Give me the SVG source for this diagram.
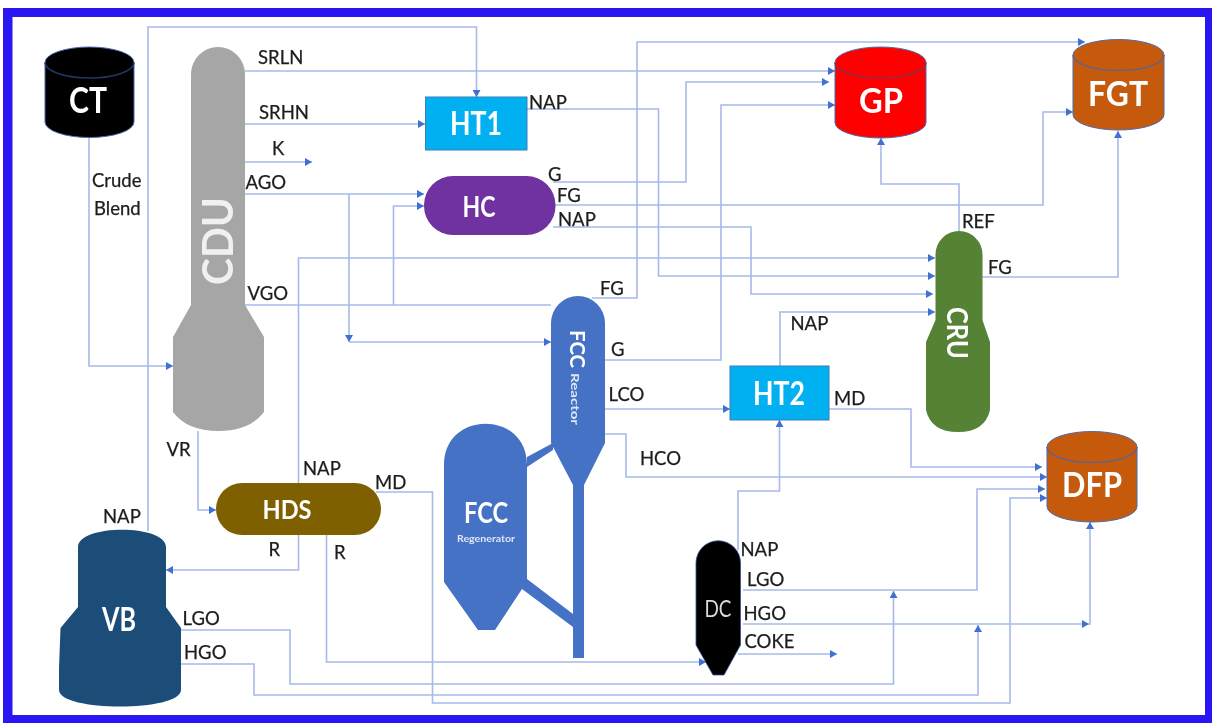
<svg xmlns="http://www.w3.org/2000/svg" width="1212" height="723" viewBox="0 0 1212 723">
<style>
text{font-family:"Lato","Open Sans","Liberation Sans",sans-serif}
.l{font-size:18.5px;fill:#1c1c1c;stroke:#1c1c1c;stroke-width:0.25}
.n{fill:#fff;text-anchor:middle;font-weight:700}
.c{fill:none;stroke:#a6bbe8;stroke-width:1.6;stroke-linejoin:miter}
.a{marker-end:url(#ah)}
.cyl{stroke:#4a6bab;stroke-width:1}
.arc{fill:none;stroke-width:1.6}
</style>
<defs>
<marker id="ah" markerUnits="userSpaceOnUse" markerWidth="8" markerHeight="8" refX="7" refY="4" orient="auto"><path d="M0 0L7 4L0 8Z" fill="#3f6fd0"/></marker>
<filter id="soft" x="0" y="0" width="100%" height="100%"><feGaussianBlur stdDeviation="0.45"/></filter>
</defs>
<rect width="1212" height="723" fill="#fff"/>
<g filter="url(#soft)">
<path id="frame" fill="#2a14f2" fill-rule="evenodd" d="M3 8H1212V723H3ZM12.5 17V715H1205V17Z"/>
<g id="connectors">
<path class="c a" d="M148 531V27H476.5V97"/>
<path class="c a" d="M245 71H835"/>
<path class="c a" d="M245 124H425"/>
<path class="c a" d="M245 162H312"/>
<path class="c a" d="M245 194H424"/>
<path class="c a" d="M349 194V342"/>
<path class="c a" d="M349 342H551"/>
<path class="c" d="M245 305H551"/>
<path class="c a" d="M393.500 305V206H424"/>
<path class="c a" d="M298.500 483V258H935"/>
<path class="c a" d="M298.500 535V570H166"/>
<path class="c a" d="M527 109H658.500V276H935"/>
<path class="c a" d="M553 182H686V82H829"/>
<path class="c a" d="M555 205H1043V112H1073"/>
<path class="c a" d="M553 227H751V294H933"/>
<path class="c a" d="M592 298H637V42H1085"/>
<path class="c a" d="M605 360H721V105H835"/>
<path class="c a" d="M605 409H730"/>
<path class="c a" d="M605 434H626V477H1047"/>
<path class="c a" d="M780 366V312H935"/>
<path class="c a" d="M829 409H911V467H1042"/>
<path class="c a" d="M959 231V184H881V138"/>
<path class="c a" d="M982 277H1118V131"/>
<path class="c a" d="M738 550V491H779.500V420"/>
<path class="c a" d="M743 590H977V489H1045"/>
<path class="c a" d="M743 624H1089"/>
<path class="c a" d="M1090 625V522"/>
<path class="c a" d="M738 654H837"/>
<path class="c a" d="M326.500 535V662H706"/>
<path class="c a" d="M376 492H432.500V703H1010V498H1047"/>
<path class="c a" d="M181 630H290V684H893.500V591"/>
<path class="c a" d="M181 664H254V695H978V625"/>
<path class="c a" d="M89 137V366H173"/>
<path class="c a" d="M198 431V510H216"/>
</g>
<g id="CT">
<path class="cyl" fill="#000" d="M45 62.500A44.500 15.500 0 0 1 134 62.500V122A44.500 15.500 0 0 1 45 122Z"/>
<path class="arc" stroke="#1f3864" d="M45 62.500A44.500 15.500 0 0 0 134 62.500"/>
<text class="n" x="88" y="113" font-size="36" textLength="38" lengthAdjust="spacingAndGlyphs">CT</text>
</g>
<g id="CDU">
<path fill="#a6a6a6" d="M191 74A27 27 0 0 1 245 74V305L264 337V412Q250 431 218.500 431Q187 431 173 412V337L191 305Z"/>
<text class="n" transform="translate(233 241) rotate(-90)" font-size="42" textLength="88" lengthAdjust="spacingAndGlyphs" style="fill:#f0f0f0">CDU</text>
</g>
<g id="HT1">
<rect x="425.500" y="97" width="101.500" height="53" fill="#00b0f0" stroke="#3f7fb5" stroke-width="1"/>
<text class="n" x="476" y="135" font-size="32" textLength="52" lengthAdjust="spacingAndGlyphs">HT1</text>
</g>
<g id="HC">
<rect x="424" y="176" width="131.500" height="59" rx="29" fill="#7030a0"/>
<text class="n" x="479" y="217" font-size="28" textLength="33" lengthAdjust="spacingAndGlyphs">HC</text>
</g>
<g id="HDS">
<rect x="216" y="483" width="165" height="52" rx="26" fill="#7f6000"/>
<text class="n" x="287" y="519" font-size="26" textLength="49" lengthAdjust="spacingAndGlyphs">HDS</text>
</g>
<g id="VB">
<path fill="#1f4e79" d="M78 547C78 524 166 524 166 547V607L181 628V690C181 712 59 712 59 690V668L60.500 628L78 607Z"/>
<text class="n" x="119" y="631" font-size="32" textLength="34" lengthAdjust="spacingAndGlyphs">VB</text>
</g>
<g id="FCC-Regenerator">
<path fill="#4472c4" d="M444 465C444 410 527 410 527 465V579L573 614V627L522 589L495 630H478L444 582Z"/>
<path fill="#4472c4" d="M527 457L553 443V450L527 467Z"/>
<text class="n" x="486" y="523" font-size="29" textLength="44" lengthAdjust="spacingAndGlyphs">FCC</text>
<text class="n" x="486" y="542" font-size="9.500" textLength="58" lengthAdjust="spacingAndGlyphs" style="fill:#dfe7f7">Regenerator</text>
</g>
<g id="FCC-Reactor">
<path fill="#4472c4" d="M551 323A27 27 0 0 1 605 323V443L584 485V658H573V485L551 443Z"/>
<text class="n" transform="translate(570 349) rotate(90)" font-size="21" textLength="38" lengthAdjust="spacingAndGlyphs">FCC</text>
<text class="n" transform="translate(571 399) rotate(90)" font-size="11.500" textLength="52" lengthAdjust="spacingAndGlyphs" style="fill:#dfe7f7">Reactor</text>
</g>
<g id="CRU">
<path fill="#548235" d="M935.500 254.500A23.500 23.500 0 0 1 982.500 254.500V320L990 342V410Q985 432 958 432Q931 432 926 410V342L935.500 320Z"/>
<text class="n" transform="translate(947 333) rotate(90)" font-size="28" textLength="52" lengthAdjust="spacingAndGlyphs">CRU</text>
</g>
<g id="GP">
<path class="cyl" fill="#f00" d="M835 62.500A45.500 15.500 0 0 1 926 62.500V122.500A45.500 15.500 0 0 1 835 122.500Z"/>
<path class="arc" stroke="#8f2d4d" d="M835 62.500A45.500 15.500 0 0 0 926 62.500"/>
<text class="n" x="881" y="113" font-size="35" textLength="44" lengthAdjust="spacingAndGlyphs">GP</text>
</g>
<g id="FGT">
<path class="cyl" fill="#c55a11" d="M1073 55A45.500 15.500 0 0 1 1164 55V114.500A45.500 15.500 0 0 1 1073 114.500Z"/>
<path class="arc" stroke="#6b6278" d="M1073 55A45.500 15.500 0 0 0 1164 55"/>
<text class="n" x="1118" y="106" font-size="35" textLength="60" lengthAdjust="spacingAndGlyphs">FGT</text>
</g>
<g id="DFP">
<path class="cyl" fill="#c55a11" d="M1047 447A45 15.500 0 0 1 1137 447V506.500A45 15.500 0 0 1 1047 506.500Z"/>
<path class="arc" stroke="#6b6278" d="M1047 447A45 15.500 0 0 0 1137 447"/>
<text class="n" x="1092" y="497" font-size="35" textLength="60" lengthAdjust="spacingAndGlyphs">DFP</text>
</g>
<g id="HT2">
<rect x="730" y="366" width="99" height="54" fill="#00b0f0" stroke="#3f7fb5" stroke-width="1"/>
<text class="n" x="779" y="405" font-size="32" textLength="52" lengthAdjust="spacingAndGlyphs">HT2</text>
</g>
<g id="DC">
<path fill="#000" stroke="#2f528f" stroke-width="0.8" d="M696 563A22 22 0 0 1 740.500 563V645L724 675H713L696 645Z"/>
<text class="n" x="718" y="617" font-size="24" textLength="27" lengthAdjust="spacingAndGlyphs" style="fill:#d9d9d9;font-weight:400">DC</text>
</g>
<g id="labels">
<text class="l" x="258" y="64">SRLN</text>
<text class="l" x="259" y="119">SRHN</text>
<text class="l" x="272" y="155">K</text>
<text class="l" x="245.500" y="189">AGO</text>
<text class="l" x="247.500" y="300">VGO</text>
<text class="l" x="92" y="187">Crude</text>
<text class="l" x="94" y="215">Blend</text>
<text class="l" x="529" y="109">NAP</text>
<text class="l" x="548" y="181">G</text>
<text class="l" x="557" y="202">FG</text>
<text class="l" x="558" y="226">NAP</text>
<text class="l" x="962" y="228">REF</text>
<text class="l" x="988" y="274">FG</text>
<text class="l" x="600" y="295">FG</text>
<text class="l" x="790.500" y="330">NAP</text>
<text class="l" x="611" y="356">G</text>
<text class="l" x="608.500" y="401">LCO</text>
<text class="l" x="834" y="405">MD</text>
<text class="l" x="640" y="465">HCO</text>
<text class="l" x="740.500" y="555.500">NAP</text>
<text class="l" x="747" y="585.500">LGO</text>
<text class="l" x="743.500" y="620">HGO</text>
<text class="l" x="744.500" y="648">COKE</text>
<text class="l" x="166.500" y="455.500">VR</text>
<text class="l" x="303" y="475">NAP</text>
<text class="l" x="375" y="489">MD</text>
<text class="l" x="268.500" y="555.500">R</text>
<text class="l" x="334" y="559">R</text>
<text class="l" x="103" y="523">NAP</text>
<text class="l" x="182.500" y="625">LGO</text>
<text class="l" x="184" y="659">HGO</text>
</g>
</g>
</svg>
